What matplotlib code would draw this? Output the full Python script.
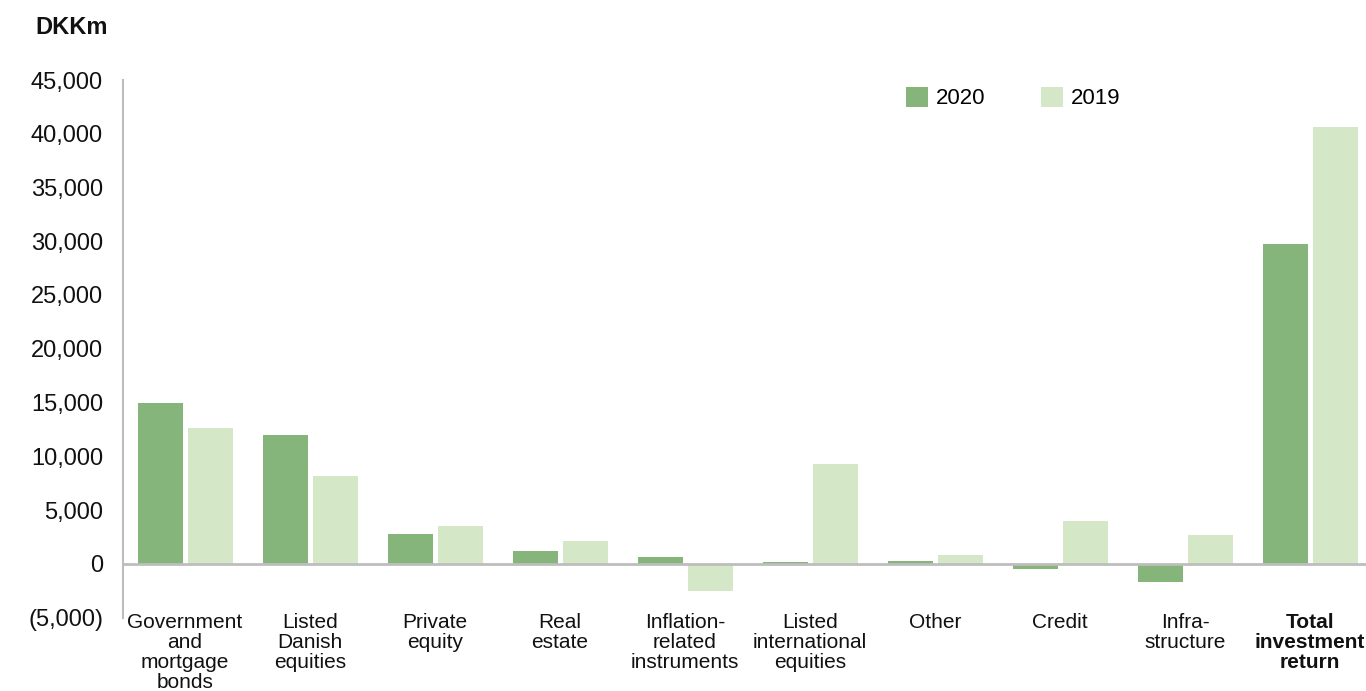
import matplotlib
matplotlib.use("Agg")
import matplotlib.pyplot as plt
from matplotlib.patches import Patch
from matplotlib.ticker import FuncFormatter
import numpy as np

plt.rcParams['font.family'] = ['Liberation Sans', 'DejaVu Sans']

categories = [
    "Government\nand\nmortgage\nbonds",
    "Listed\nDanish\nequities",
    "Private\nequity",
    "Real\nestate",
    "Inflation-\nrelated\ninstruments",
    "Listed\ninternational\nequities",
    "Other",
    "Credit",
    "Infra-\nstructure",
    "Total\ninvestment\nreturn",
]
returns_2020 = [15000, 12000, 2750, 1200, 600, 150, 250, -500, -1700, 29750]
returns_2019 = [12600, 8150, 3500, 2100, -2500, 9300, 800, 4000, 2650, 40600]
y_ticks = [-5000, 0, 5000, 10000, 15000, 20000, 25000, 30000, 35000, 40000, 45000]

color_2020 = "#86b57b"
color_2019 = "#d4e7c6"
grey = "#bdbdbd"

W, H = 1366, 691
fig = plt.figure(figsize=(W / 100, H / 100), dpi=100)
ax = fig.add_axes([122.5 / W, (H - 617.5) / H, 1250 / W, 537.5 / H])

x = np.arange(len(categories))
bw = 0.36
off = 0.2
ax.bar(x - off, returns_2020, width=bw, color=color_2020, zorder=2)
ax.bar(x + off, returns_2019, width=bw, color=color_2019, zorder=2)

ax.set_xlim(-0.5, len(categories) - 0.5)
ax.set_ylim(-5000, 45000)
ax.set_yticks(y_ticks)

def fmt(v, _):
    if v < 0:
        return f"({abs(v):,.0f})"
    return f"{v:,.0f}"

ax.yaxis.set_major_formatter(FuncFormatter(fmt))
ax.tick_params(axis='y', length=0, pad=14, labelsize=17, labelcolor="#111111")
ax.tick_params(axis='x', length=0, labelbottom=False)

for s in ["top", "right", "bottom"]:
    ax.spines[s].set_visible(False)
ax.spines["left"].set_color(grey)
ax.spines["left"].set_linewidth(1.5)
ax.axhline(0, color=grey, linewidth=2, zorder=3)

for i, lab in enumerate(categories):
    bold = i == len(categories) - 1
    ax.annotate(lab, xy=(i, 0), xycoords=('data', 'axes fraction'),
                xytext=(0, 3.5), textcoords='offset points',
                ha='center', va='top', fontsize=15, linespacing=1.07,
                fontweight='bold' if bold else 'normal', color="#111111")

fig.text(35 / W, 1 - 28 / H, "DKKm", fontsize=17, fontweight='bold',
         va='center', ha='left', color="#111111")

handles = [Patch(facecolor=color_2020, label="2020"),
           Patch(facecolor=color_2019, label="2019")]
fig.legend(handles=handles, loc='center left',
           bbox_to_anchor=(906 / W, 1 - 98 / H), ncol=2, frameon=False,
           fontsize=16, handlelength=1.0, handleheight=1.0,
           handletextpad=0.35, columnspacing=2.5, borderpad=0, borderaxespad=0)

fig.savefig("out.png", dpi=100)
